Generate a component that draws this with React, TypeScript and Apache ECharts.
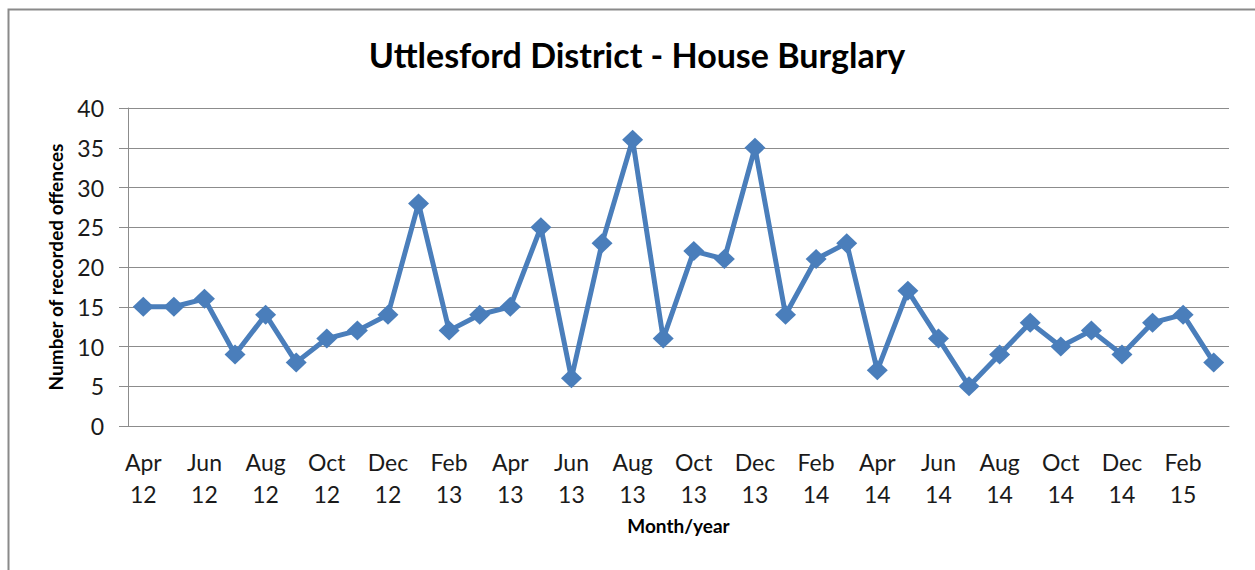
import React, { useEffect, useRef } from "react";
import * as echarts from "echarts";

const months = ["Apr", "May", "Jun", "Jul", "Aug", "Sep", "Oct", "Nov", "Dec", "Jan", "Feb", "Mar"];
const years = ["12", "13", "14"];
const categories: string[] = [];
years.forEach((y) => {
  months.forEach((m, mi) => {
    const yr = mi >= 9 ? String(Number(y) + 1) : y;
    categories.push(m + "\n" + yr);
  });
});

const offences = [
  15, 15, 16, 9, 14, 8, 11, 12, 14, 28, 12, 14,
  15, 25, 6, 23, 36, 11, 22, 21, 35, 14, 21, 23,
  7, 17, 11, 5, 9, 13, 10, 12, 9, 13, 14, 8,
];

const FONT = "Lato, 'Liberation Sans', sans-serif";

export default function App() {
  const ref = useRef<HTMLDivElement>(null);
  useEffect(() => {
    if (!ref.current) return;
    const chart = echarts.init(ref.current, null, { renderer: "svg" });
    chart.setOption({
      animation: false,
      backgroundColor: "#ffffff",
      title: {
        text: "Uttlesford District - House Burglary",
        left: 632,
        top: 32,
        textAlign: "center",
        textStyle: { fontFamily: FONT, fontSize: 34, fontWeight: "bold", color: "#000" },
      },
      graphic: [
        {
          type: "rect",
          shape: { x: 8.5, y: 9.5, width: 1400, height: 700 },
          style: { fill: "none", stroke: "#8a8a8a", lineWidth: 2 },
          silent: true,
        },
      ],
      grid: { left: 128, right: 26, top: 108, bottom: 144 },
      xAxis: {
        type: "category",
        data: categories,
        boundaryGap: true,
        name: "Month/year",
        nameLocation: "middle",
        nameGap: 90,
        nameTextStyle: { fontFamily: FONT, fontSize: 19, fontWeight: "bold", color: "#000" },
        axisLine: { show: true, lineStyle: { color: "#8c8c8c", width: 1 } },
        axisTick: { show: false },
        axisLabel: {
          interval: 1,
          fontFamily: FONT,
          fontSize: 23,
          color: "#1a1a1a",
          lineHeight: 32,
          margin: 20,
        },
        splitLine: { show: false },
      },
      yAxis: {
        type: "value",
        min: 0,
        max: 40,
        interval: 5,
        name: "Number of recorded offences",
        nameLocation: "middle",
        nameGap: 63,
        nameRotate: 90,
        nameTextStyle: { fontFamily: FONT, fontSize: 19, fontWeight: "bold", color: "#000" },
        axisLine: { show: true, lineStyle: { color: "#8c8c8c", width: 1 } },
        axisTick: { show: true, length: 9, lineStyle: { color: "#8c8c8c" } },
        axisLabel: { fontFamily: FONT, fontSize: 23, color: "#1a1a1a", margin: 24 },
        splitLine: { show: true, lineStyle: { color: "#8c8c8c", width: 1 } },
      },
      series: [
        {
          type: "line",
          data: offences,
          symbol: "diamond",
          symbolSize: [21, 20],
          lineStyle: { color: "#4a7ebb", width: 5 },
          itemStyle: { color: "#4a7ebb" },
        },
      ],
    });
    return () => chart.dispose();
  }, []);
  return (
    <div
      ref={ref}
      style={{ position: "fixed", left: 0, top: 0, width: 1255, height: 570 }}
    />
  );
}
